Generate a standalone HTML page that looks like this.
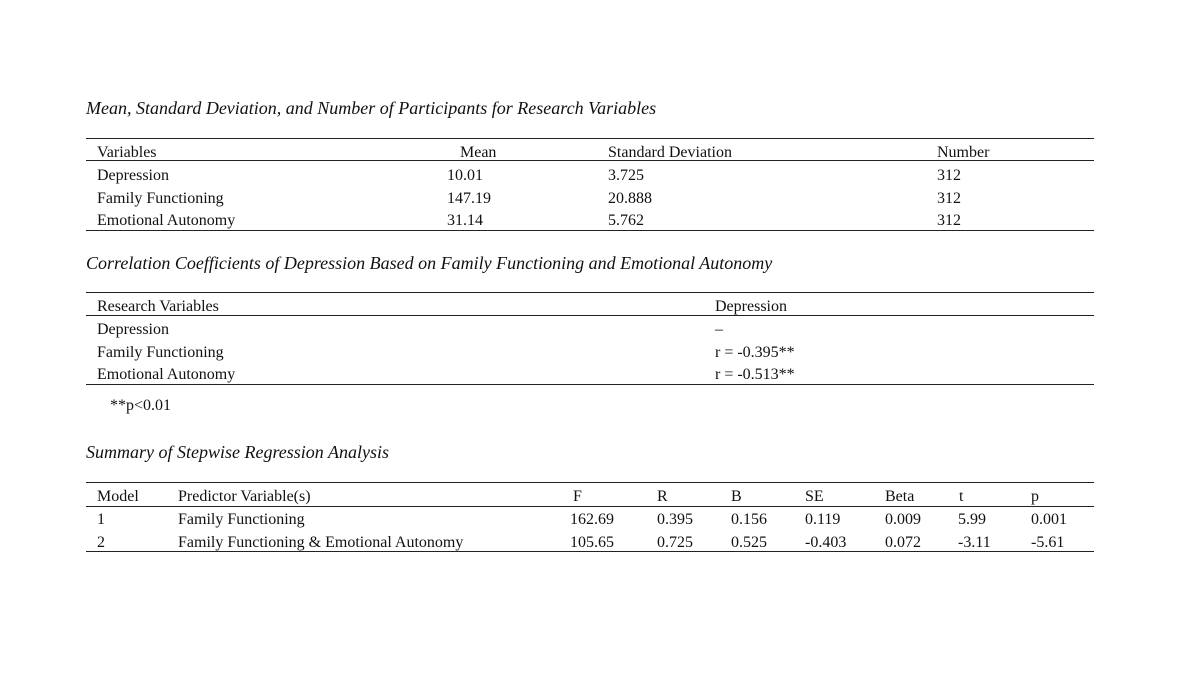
<!DOCTYPE html>
<html><head><meta charset="utf-8"><style>
body{margin:0;width:1181px;height:676px;background:#fff;position:relative;overflow:hidden;font-family:"Liberation Serif",serif;color:#111;}
.t{position:absolute;font-size:16px;line-height:18px;white-space:nowrap;margin-top:0px;}
.ti{position:absolute;font-size:18px;line-height:20px;font-style:italic;white-space:nowrap;}
.l{position:absolute;left:86px;width:1008px;height:1px;background:#222;}
</style></head><body>
<div class="ti" style="left:86px;top:98px">Mean, Standard Deviation, and Number of Participants for Research Variables</div>
<div class="l" style="top:138px"></div>
<div class="l" style="top:160px"></div>
<div class="l" style="top:230px"></div>
<div class="t" style="left:97px;top:144px">Variables</div>
<div class="t" style="left:460px;top:144px">Mean</div>
<div class="t" style="left:608px;top:144px">Standard Deviation</div>
<div class="t" style="left:937px;top:144px">Number</div>
<div class="t" style="left:97px;top:167px">Depression</div>
<div class="t" style="left:447px;top:167px">10.01</div>
<div class="t" style="left:608px;top:167px">3.725</div>
<div class="t" style="left:937px;top:167px">312</div>
<div class="t" style="left:97px;top:190px">Family Functioning</div>
<div class="t" style="left:447px;top:190px">147.19</div>
<div class="t" style="left:608px;top:190px">20.888</div>
<div class="t" style="left:937px;top:190px">312</div>
<div class="t" style="left:97px;top:212px">Emotional Autonomy</div>
<div class="t" style="left:447px;top:212px">31.14</div>
<div class="t" style="left:608px;top:212px">5.762</div>
<div class="t" style="left:937px;top:212px">312</div>

<div class="ti" style="left:86px;top:253px">Correlation Coefficients of Depression Based on Family Functioning and Emotional Autonomy</div>
<div class="l" style="top:292px"></div>
<div class="l" style="top:315px"></div>
<div class="l" style="top:384px"></div>
<div class="t" style="left:97px;top:298px">Research Variables</div>
<div class="t" style="left:715px;top:298px">Depression</div>
<div class="t" style="left:97px;top:321px">Depression</div>
<div class="t" style="left:715px;top:321px">–</div>
<div class="t" style="left:97px;top:344px">Family Functioning</div>
<div class="t" style="left:715px;top:344px">r = -0.395**</div>
<div class="t" style="left:97px;top:366px">Emotional Autonomy</div>
<div class="t" style="left:715px;top:366px">r = -0.513**</div>
<div class="t" style="left:110px;top:397px">**p&lt;0.01</div>

<div class="ti" style="left:86px;top:442px">Summary of Stepwise Regression Analysis</div>
<div class="l" style="top:482px"></div>
<div class="l" style="top:506px"></div>
<div class="l" style="top:551px"></div>
<div class="t" style="left:97px;top:488px">Model</div>
<div class="t" style="left:178px;top:488px">Predictor Variable(s)</div>
<div class="t" style="left:573px;top:488px">F</div>
<div class="t" style="left:657px;top:488px">R</div>
<div class="t" style="left:731px;top:488px">B</div>
<div class="t" style="left:805px;top:488px">SE</div>
<div class="t" style="left:885px;top:488px">Beta</div>
<div class="t" style="left:959px;top:488px">t</div>
<div class="t" style="left:1031px;top:488px">p</div>
<div class="t" style="left:97px;top:511px">1</div>
<div class="t" style="left:178px;top:511px">Family Functioning</div>
<div class="t" style="left:570px;top:511px">162.69</div>
<div class="t" style="left:657px;top:511px">0.395</div>
<div class="t" style="left:731px;top:511px">0.156</div>
<div class="t" style="left:805px;top:511px">0.119</div>
<div class="t" style="left:885px;top:511px">0.009</div>
<div class="t" style="left:958px;top:511px">5.99</div>
<div class="t" style="left:1031px;top:511px">0.001</div>
<div class="t" style="left:97px;top:534px">2</div>
<div class="t" style="left:178px;top:534px">Family Functioning &amp; Emotional Autonomy</div>
<div class="t" style="left:570px;top:534px">105.65</div>
<div class="t" style="left:657px;top:534px">0.725</div>
<div class="t" style="left:731px;top:534px">0.525</div>
<div class="t" style="left:805px;top:534px">-0.403</div>
<div class="t" style="left:885px;top:534px">0.072</div>
<div class="t" style="left:958px;top:534px">-3.11</div>
<div class="t" style="left:1031px;top:534px">-5.61</div>
</body></html>
